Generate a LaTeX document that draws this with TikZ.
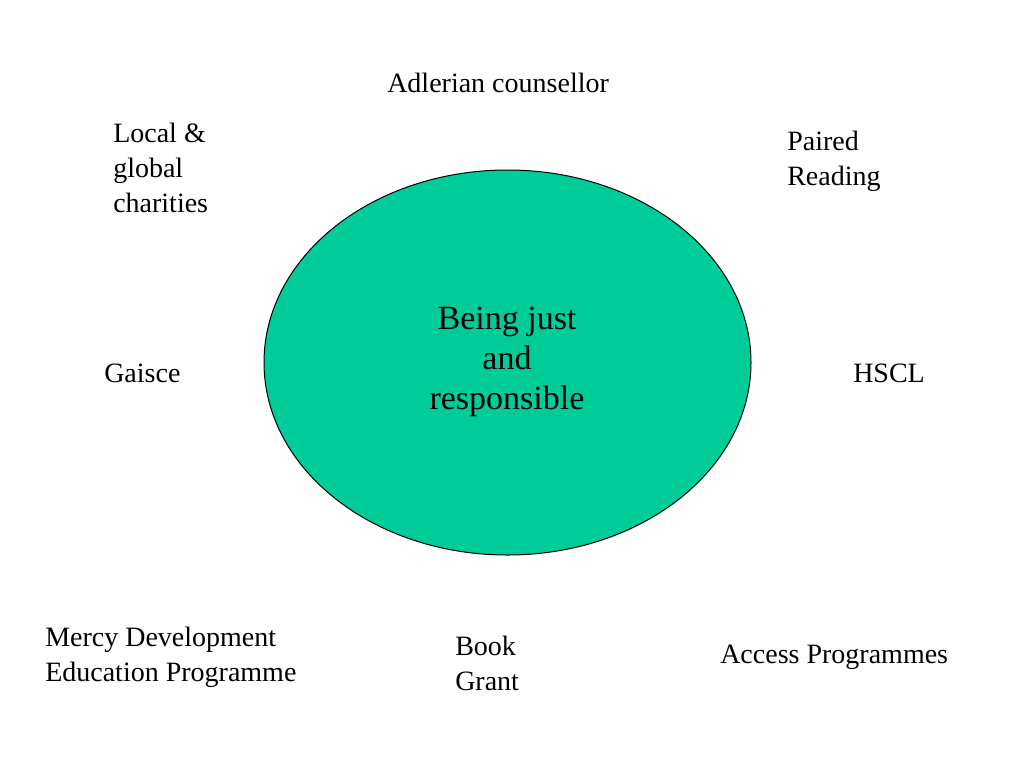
\documentclass[tikz,border=0pt]{standalone}
\usepackage{fontspec}
\setmainfont{Liberation Serif}
\usetikzlibrary{shapes.geometric}
\definecolor{blobgreen}{HTML}{00CC99}
\begin{document}
\begin{tikzpicture}[x=0.75pt,y=-0.75pt,
  lbl/.style={anchor=base west,align=left,inner sep=0pt,font=\fontsize{21}{25.9}\selectfont},
  ctr/.style={anchor=base,align=center,inner sep=0pt,font=\fontsize{25.5}{30}\selectfont}]
\useasboundingbox (0,0) rectangle (1024,768);
\node[ellipse,draw=black,line width=0.75pt,fill=blobgreen,minimum width=365.25pt,minimum height=288.75pt,inner sep=0pt] (blob) at (507.5,362.5) {};
\node[ctr] (core) at (507,409) {Being just\\and\\responsible};
\node[lbl] (adl) at (387,92) {Adlerian counsellor};
\node[lbl] (loc) at (113,212) {Local \&\\global\\charities};
\node[lbl] (pair) at (787,185) {Paired\\Reading};
\node[lbl] (gai) at (104,382) {Gaisce};
\node[lbl] (hscl) at (853,382) {HSCL};
\node[lbl] (mercy) at (45,681) {Mercy Development\\Education Programme};
\node[lbl] (book) at (455,690) {Book\\Grant};
\node[lbl] (acc) at (720,663) {Access Programmes};
\end{tikzpicture}
\end{document}
